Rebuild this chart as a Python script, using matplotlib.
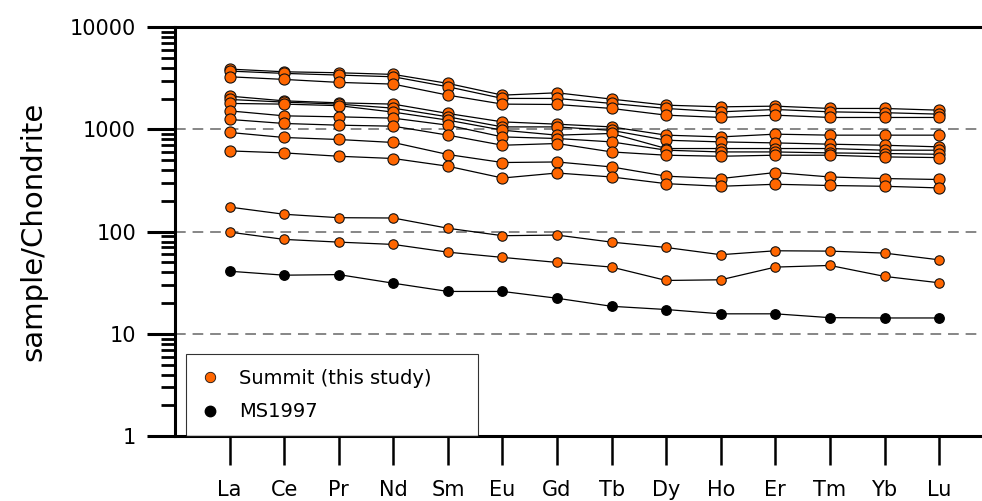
import matplotlib.pyplot as plt
import numpy as np
from matplotlib.ticker import FixedLocator, NullFormatter

elements = ['La', 'Ce', 'Pr', 'Nd', 'Sm', 'Eu', 'Gd', 'Tb', 'Dy', 'Ho', 'Er', 'Tm', 'Yb', 'Lu']

# summit samples, chondrite normalised
top_1 = [3900, 3670, 3590, 3460, 2825, 2168, 2286, 1982, 1730, 1666, 1692, 1606, 1606, 1545]
top_2 = [3727, 3540, 3408, 3280, 2618, 2013, 2013, 1798, 1606, 1488, 1570, 1488, 1460, 1413]
top_3 = [3280, 3090, 2890, 2780, 2168, 1771, 1757, 1606, 1381, 1311, 1381, 1311, 1311, 1311]
mid_1 = [2120, 1907, 1823, 1771, 1435, 1187, 1127, 1060, 880, 846, 900, 880, 880, 880]
mid_2 = [1968, 1853, 1771, 1617, 1330, 1060, 1060, 980, 785, 756, 739, 718, 701, 676]
mid_3 = [1798, 1771, 1711, 1479, 1234, 984, 880, 914, 651, 651, 651, 651, 627, 627]
mid_4 = [1521, 1360, 1330, 1291, 1102, 846, 816, 756, 627, 603, 603, 590, 582, 572]
mid_5 = [1254, 1145, 1102, 1077, 880, 701, 729, 603, 560, 547, 560, 560, 539, 531]
low_1 = [935, 835, 798, 746, 569, 475, 481, 430, 349, 331, 379, 343, 331, 324]
low_2 = [617, 590, 547, 520, 437, 335, 375, 343, 295, 278, 291, 283, 278, 268]
base_1 = [174, 148, 137, 136, 108, 91.3, 92.6, 79, 70, 59.5, 65, 64.5, 61.7, 53]
base_2 = [99, 84, 79, 75, 63, 56, 50, 45, 33.3, 33.8, 45, 46.7, 36.5, 31.6]
ms1997 = [41, 37.5, 38, 31.3, 26, 26, 22.3, 18.6, 17.3, 15.7, 15.7, 14.4, 14.3, 14.3]

big_summit = [top_1, top_2, top_3, mid_1, mid_2, mid_3, mid_4, mid_5, low_1, low_2]
small_summit = [base_1, base_2]

orange = '#ff6600'
x = np.arange(len(elements))

fig = plt.figure(figsize=(9.82, 5.01), dpi=100)
ax = fig.add_axes([0.1782, 0.1297, 0.8198, 0.8158])

for row in big_summit:
    ax.plot(x, row, color='black', lw=0.9, zorder=2)
    ax.plot(x, row, 'o', ms=8, mfc=orange, mec='#111111', mew=0.8, zorder=3)
for row in small_summit:
    ax.plot(x, row, color='black', lw=0.9, zorder=2)
    ax.plot(x, row, 'o', ms=6.8, mfc=orange, mec='#111111', mew=0.8, zorder=3)
ax.plot(x, ms1997, color='black', lw=0.9, zorder=2)
ax.plot(x, ms1997, 'o', ms=6.8, mfc='black', mec='black', zorder=3)

for level in [10, 100, 1000]:
    ax.axhline(level, color='#666666', lw=1.1, dashes=(7, 4.5), zorder=1)

ax.set_yscale('log')
ax.set_ylim(1, 10000)
ax.set_xlim(-1, 13.75)

yt = [1, 10, 100, 1000, 10000]
ax.yaxis.set_major_locator(FixedLocator(yt))
ax.set_yticklabels([str(v) for v in yt])
minors = [m * 10**d for d in range(4) for m in range(2, 10)]
ax.yaxis.set_minor_locator(FixedLocator(minors))
ax.yaxis.set_minor_formatter(NullFormatter())

ax.set_xticks(x)
ax.set_xticklabels(elements)
ax.xaxis.set_minor_locator(FixedLocator([]))

ax.spines['right'].set_visible(False)
for s in ['left', 'top', 'bottom']:
    ax.spines[s].set_linewidth(2.2)
ax.tick_params(axis='y', which='major', direction='out', length=20, width=2.2,
               labelsize=15, pad=8)
ax.tick_params(axis='y', which='minor', direction='out', length=10, width=2)
ax.tick_params(axis='x', which='major', direction='out', length=21, width=1.8,
               labelsize=15, pad=11)

ax.set_ylabel('sample/Chondrite', fontsize=21, labelpad=16)

ax.plot([], [], 'o', ms=7.5, mfc=orange, mec='#111111', mew=0.6, label='Summit (this study)')
ax.plot([], [], 'o', ms=7.5, mfc='black', mec='black', label='MS1997')
leg = ax.legend(loc='lower left', bbox_to_anchor=(0.0137, 0.0, 0.363, 0.2), mode='expand',
                borderaxespad=0, fontsize=14, frameon=True, fancybox=False,
                handlelength=1.0, handletextpad=1.0, labelspacing=0.75, borderpad=0.75)
leg.get_frame().set_edgecolor('black')
leg.get_frame().set_linewidth(0.8)

fig.savefig('out.png', dpi=100)
